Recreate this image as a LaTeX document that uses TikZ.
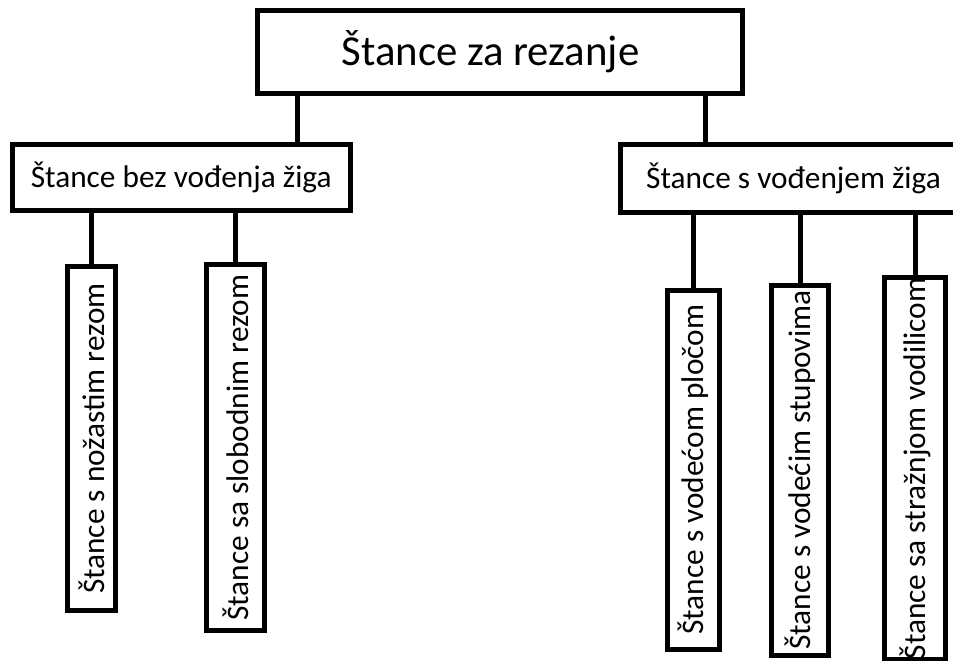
\documentclass[tikz,border=0pt]{standalone}
\usepackage{fontspec}
\setmainfont{Carlito}
\begin{document}
\begin{tikzpicture}[x=1pt,y=-1pt,
  box/.style={draw=black,line width=5pt,fill=white,inner sep=0pt,align=center,text=black},
  lvlzero/.style={box,font=\fontsize{42.8}{50}\selectfont},
  lvlone/.style={box,font=\fontsize{31.3}{36}\selectfont},
  link/.style={draw=black,line width=5pt}]
\useasboundingbox (0,0) rectangle (953,661);
\clip (0,0) rectangle (953,661);
% top
\node[lvlzero,minimum width=485pt,minimum height=83pt] (top) at (500,51.75) {\hspace*{-19pt}Štance za rezanje};
% second level
\node[lvlone,minimum width=337.5pt,minimum height=65.5pt] (L) at (181.25,177.25) {Štance bez vođenja žiga};
\node[lvlone,minimum width=346pt,minimum height=68.5pt] (R) at (793.5,178.25) {Štance s vođenjem žiga};
% leaves
\node[lvlone,minimum width=48pt,minimum height=344pt] (b1) at (91.5,438.5) {\rotatebox{90}{Štance s nožastim rezom}};
\node[lvlone,minimum width=58pt,minimum height=366pt] (b2) at (235.5,447.5) {\rotatebox{90}{Štance sa slobodnim rezom}};
\node[lvlone,minimum width=52pt,minimum height=358.5pt] (b3) at (693.5,469.75) {\rotatebox{90}{Štance s vodećom pločom}};
\node[lvlone,minimum width=57pt,minimum height=369.5pt] (b4) at (800,470.25) {\rotatebox{90}{Štance s vodećim stupovima}};
\node[lvlone,minimum width=61pt,minimum height=378pt] (b5) at (915,468.5) {\rotatebox{90}{Štance sa stražnjom vodilicom}};
% connectors
\draw[link] (297.5,0 |- top.south) -- (297.5,0 |- L.north);
\draw[link] (705,0 |- top.south) -- (705,0 |- R.north);
\draw[link] (b1.north |- L.south) -- (b1.north);
\draw[link] (b2.north |- L.south) -- (b2.north);
\draw[link] (b3.north |- R.south) -- (b3.north);
\draw[link] (b4.north |- R.south) -- (b4.north);
\draw[link] (b5.north |- R.south) -- (b5.north);
\end{tikzpicture}
\end{document}
